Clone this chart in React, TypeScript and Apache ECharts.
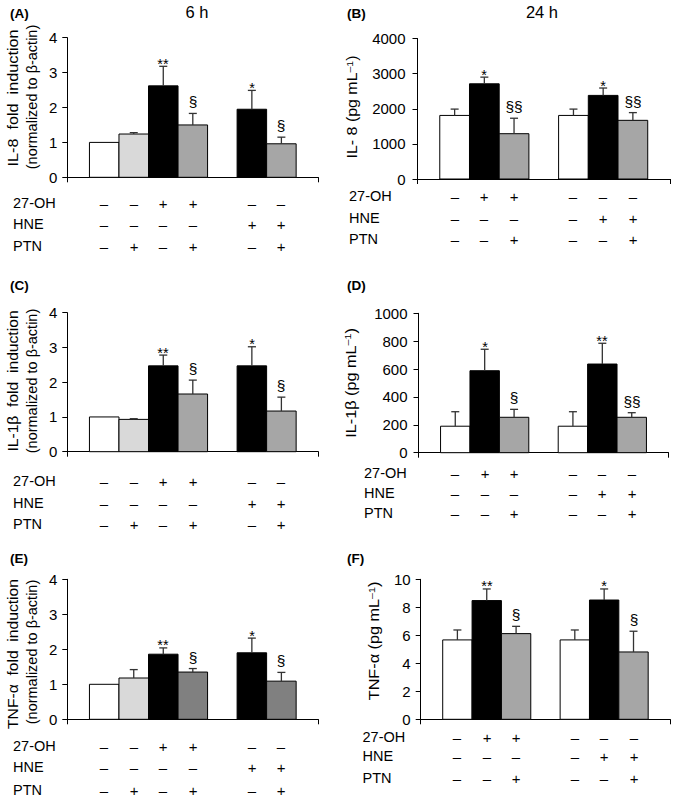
import React, { useEffect, useRef } from "react";
import * as echarts from "echarts";

const FONT = "'Liberation Sans', Arial, Helvetica, sans-serif";

// Bar slots (one empty slot separates the two treatment groups)
const xLeft = [1, 2, 3, 4, 6, 7];
const xRight = [1, 2, 3, 5, 6, 7];

const rowNames = ["27-OH", "HNE", "PTN"];
const tableLeft = [
  ["–", "–", "+", "+", "–", "–"],
  ["–", "–", "–", "–", "+", "+"],
  ["–", "+", "–", "+", "–", "+"],
];
const tableRight = [
  ["–", "+", "+", "–", "–", "–"],
  ["–", "–", "–", "–", "+", "+"],
  ["–", "–", "+", "–", "–", "+"],
];

// (A) IL-8 fold induction, 6 h
const il8FoldValues = [1.0, 1.24, 2.62, 1.5, 1.95, 0.96];
const il8FoldErrors = [0, 0.04, 0.56, 0.33, 0.54, 0.19];
const il8FoldMarks = ["", "", "**", "§", "*", "§"];

// (B) IL-8 pg/mL, 24 h
const il8ConcValues = [1810, 2710, 1290, 1810, 2380, 1670];
const il8ConcErrors = [180, 190, 440, 180, 210, 220];
const il8ConcMarks = ["", "*", "§§", "", "*", "§§"];

// (C) IL-1beta fold induction, 6 h
const il1FoldValues = [1.0, 0.93, 2.47, 1.66, 2.47, 1.17];
const il1FoldErrors = [0, 0.02, 0.31, 0.4, 0.55, 0.4];
const il1FoldMarks = ["", "", "**", "§", "*", "§"];

// (D) IL-1beta pg/mL, 24 h
const il1ConcValues = [190, 588, 254, 190, 636, 254];
const il1ConcErrors = [104, 154, 57, 104, 149, 33];
const il1ConcMarks = ["", "*", "§", "", "**", "§§"];

// (E) TNF-alpha fold induction, 6 h
const tnfFoldValues = [1.0, 1.18, 1.86, 1.35, 1.9, 1.09];
const tnfFoldErrors = [0, 0.24, 0.18, 0.1, 0.42, 0.25];
const tnfFoldMarks = ["", "", "**", "§", "*", "§"];

// (F) TNF-alpha pg/mL, 24 h
const tnfConcValues = [5.67, 8.48, 6.12, 5.67, 8.52, 4.81];
const tnfConcErrors = [0.71, 0.83, 0.52, 0.71, 0.79, 1.48];
const tnfConcMarks = ["", "**", "§", "", "*", "§"];

// styles
const WHITE = "#ffffff";
const LIGHT = "#d9d9d9";
const BLACK = "#000000";
const GREY = "#a6a6a6";
const DARK = "#808080";
const colorsAC = [WHITE, LIGHT, BLACK, GREY, BLACK, GREY];
const colorsE = [WHITE, LIGHT, BLACK, DARK, BLACK, DARK];
const colorsRight = [WHITE, BLACK, GREY, WHITE, BLACK, GREY];

const panels = [
  {
    label: "(A)", labelPos: [10, 13],
    values: il8FoldValues, errors: il8FoldErrors, marks: il8FoldMarks,
    xs: xLeft, table: tableLeft, colors: colorsAC, yMax: 4, yInterval: 1,
    grid: { left: 67.3, top: 37.7, width: 251, height: 139.6 }, labelMargin: 10,
    rowY: [203, 224, 245.5], rowX: 13,
    titles: [
      { text: "IL-8  fold  induction", x: 13, y: 98, scale: 1.12 },
      { text: "(normalized to β-actin)", x: 31.5, y: 97, scale: 1 },
    ],
  },
  {
    label: "(B)", labelPos: [347, 13],
    values: il8ConcValues, errors: il8ConcErrors, marks: il8ConcMarks,
    xs: xRight, table: tableRight, colors: colorsRight, yMax: 4000, yInterval: 1000,
    grid: { left: 417.5, top: 38.5, width: 252.5, height: 140.5 }, labelMargin: 12,
    rowY: [196, 218, 239], rowX: 349,
    titles: [{ text: "IL- 8 (pg mL{sup|–1})", x: 352, y: 107, scale: 1.1 }],
  },
  {
    label: "(C)", labelPos: [10, 285],
    values: il1FoldValues, errors: il1FoldErrors, marks: il1FoldMarks,
    xs: xLeft, table: tableLeft, colors: colorsAC, yMax: 4, yInterval: 1,
    grid: { left: 67.3, top: 312.7, width: 251, height: 139 }, labelMargin: 10,
    rowY: [481, 502.5, 524], rowX: 13,
    titles: [
      { text: "IL-1β  fold  induction", x: 13, y: 381, scale: 1.08 },
      { text: "(normalized to β-actin)", x: 31.5, y: 381, scale: 1 },
    ],
  },
  {
    label: "(D)", labelPos: [347, 285],
    values: il1ConcValues, errors: il1ConcErrors, marks: il1ConcMarks,
    xs: xRight, table: tableRight, colors: colorsRight, yMax: 1000, yInterval: 200,
    grid: { left: 418.5, top: 313.3, width: 250, height: 139.4 }, labelMargin: 11,
    rowY: [472.7, 492.7, 513.3], rowX: 364,
    titles: [{ text: "IL-1β (pg mL{sup|–1})", x: 350.5, y: 383, scale: 1.12 }],
  },
  {
    label: "(E)", labelPos: [10, 558],
    values: tnfFoldValues, errors: tnfFoldErrors, marks: tnfFoldMarks,
    xs: xLeft, table: tableLeft, colors: colorsE, yMax: 4, yInterval: 1,
    grid: { left: 67.3, top: 579.3, width: 251, height: 140 }, labelMargin: 10,
    rowY: [745.7, 767.3, 790], rowX: 13,
    titles: [
      { text: "TNF-α  fold  induction", x: 13, y: 654, scale: 1.08 },
      { text: "(normalized to β-actin)", x: 31.5, y: 652, scale: 1 },
    ],
  },
  {
    label: "(F)", labelPos: [347, 558],
    values: tnfConcValues, errors: tnfConcErrors, marks: tnfConcMarks,
    xs: xRight, table: tableRight, colors: colorsRight, yMax: 10, yInterval: 2,
    grid: { left: 420.7, top: 579.3, width: 249.5, height: 140 }, labelMargin: 10,
    rowY: [736.7, 756, 777.7], rowX: 362.5,
    titles: [{ text: "TNF-α (pg mL{sup|–1})", x: 374, y: 641, scale: 1.12 }],
  },
];

function zrText(text: string, size: number, align = "center", weight = "normal") {
  return {
    text,
    fontSize: size,
    fontFamily: FONT,
    fontWeight: weight,
    fill: "#000",
    align,
    verticalAlign: "middle",
  };
}

function gText(text: string, size: number, align = "center", weight = "normal") {
  return { ...zrText(text, size, align, weight), textAlign: align, textVerticalAlign: "middle" };
}

function buildOption() {
  const grid: any[] = [];
  const xAxis: any[] = [];
  const yAxis: any[] = [];
  const series: any[] = [];
  const graphic: any[] = [];

  panels.forEach((p, idx) => {
    grid.push({ ...p.grid, containLabel: false });
    xAxis.push({
      gridIndex: idx,
      type: "value",
      min: -0.25,
      max: 8.25,
      axisLine: { show: true, onZero: false, lineStyle: { color: "#000", width: 1 } },
      axisTick: { show: true, customValues: [-0.25, 8.25], length: 5, lineStyle: { color: "#000" } },
      axisLabel: { show: false },
      splitLine: { show: false },
    });
    yAxis.push({
      gridIndex: idx,
      type: "value",
      min: 0,
      max: p.yMax,
      interval: p.yInterval,
      axisLine: { show: true, onZero: false, lineStyle: { color: "#000", width: 1 } },
      axisTick: { show: true, length: 5, lineStyle: { color: "#000" } },
      splitLine: { show: false },
      axisLabel: {
        margin: p.labelMargin,
        fontSize: 15,
        fontFamily: FONT,
        color: "#000",
        formatter: (v: number) => String(v),
      },
    });
    series.push({
      type: "custom",
      xAxisIndex: idx,
      yAxisIndex: idx,
      clip: false,
      itemStyle: { color: "#000" },
      data: p.xs.map((x, i) => [x, p.values[i], p.errors[i]]),
      renderItem: (params: any, api: any) => {
        const i = params.dataIndex;
        const x = api.value(0);
        const v = api.value(1);
        const e = api.value(2);
        const base = api.coord([x, 0]);
        const top = api.coord([x, v]);
        const w = api.size([1, 0])[0];
        const cx = base[0];
        const children: any[] = [
          {
            type: "rect",
            shape: { x: cx - w / 2, y: top[1], width: w, height: base[1] - top[1] },
            style: { fill: p.colors[i], stroke: "#000", lineWidth: 1 },
          },
        ];
        let markY = top[1];
        if (e > 0) {
          const et = api.coord([x, v + e])[1];
          children.push({ type: "line", shape: { x1: cx, y1: top[1], x2: cx, y2: et }, style: { stroke: "#333", lineWidth: 1.3 } });
          children.push({ type: "line", shape: { x1: cx - 4, y1: et, x2: cx + 4, y2: et }, style: { stroke: "#333", lineWidth: 1.3 } });
          markY = et;
        }
        const m = p.marks[i];
        if (m) {
          const isSec = m.charAt(0) === "§";
          children.push({
            type: "text",
            x: Math.round(cx),
            y: Math.round(markY + (isSec ? -12 : -2.5)),
            style: zrText(m, isSec ? 15.5 : 14.5),
          });
        }
        p.table.forEach((row, r) => {
          children.push({ type: "text", x: Math.round(cx), y: Math.round(p.rowY[r]), style: zrText(row[i], 15) });
        });
        return { type: "group", children };
      },
    });

    graphic.push({ type: "text", x: p.labelPos[0], y: p.labelPos[1], style: gText(p.label, 13.5, "left", "bold") });
    rowNames.forEach((n, r) => {
      graphic.push({ type: "text", x: p.rowX, y: p.rowY[r], style: gText(n, 14.5, "left") });
    });
    p.titles.forEach((t) => {
      graphic.push({
        type: "text",
        x: t.x,
        y: t.y,
        rotation: Math.PI / 2,
        scaleX: t.scale,
        style: {
          ...gText(t.text, 14.5),
          rich: { sup: { fontSize: 9.5, fontFamily: FONT, verticalAlign: "top", fill: "#000" } },
        },
      });
    });
  });

  graphic.push({ type: "text", x: 197, y: 12, style: gText("6 h", 16.5) });
  graphic.push({ type: "text", x: 542, y: 12, style: gText("24 h", 16.5) });

  return { animation: false, backgroundColor: "#fff", grid, xAxis, yAxis, series, graphic };
}

export default function App() {
  const ref = useRef<HTMLDivElement>(null);
  useEffect(() => {
    document.body.style.margin = "0";
    if (!ref.current) return;
    const chart = echarts.init(ref.current, undefined, { renderer: "svg" });
    chart.setOption(buildOption() as any);
    return () => chart.dispose();
  }, []);
  return <div ref={ref} style={{ width: 674, height: 803 }} />;
}
